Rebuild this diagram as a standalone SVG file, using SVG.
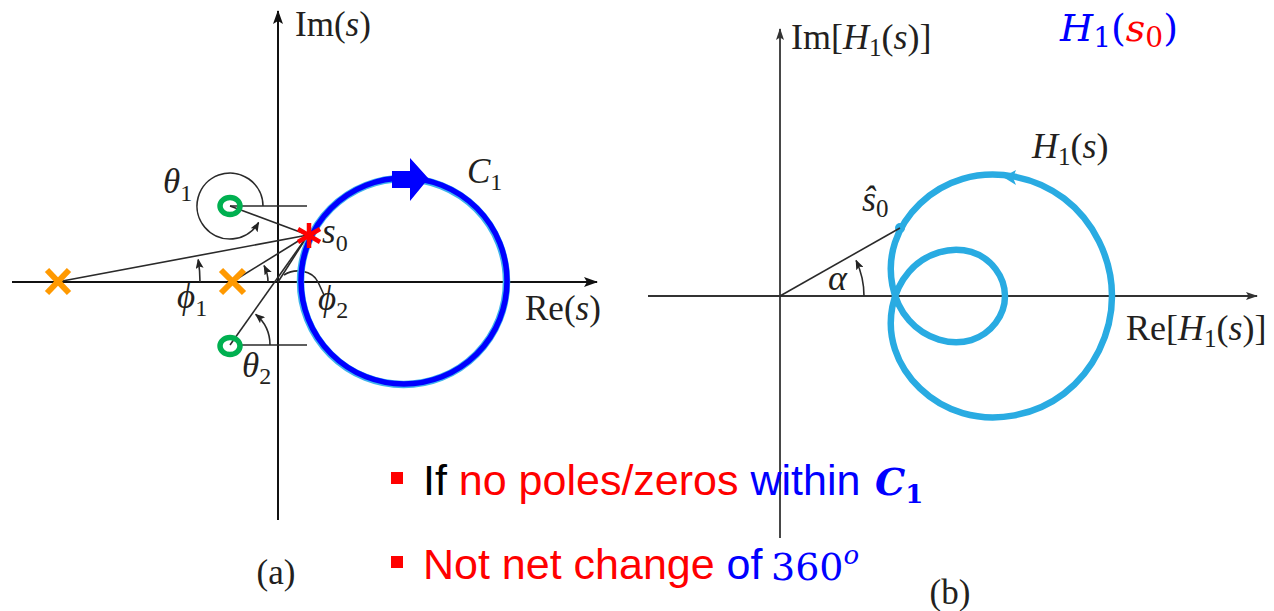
<svg xmlns="http://www.w3.org/2000/svg" width="1274" height="611" viewBox="0 0 1274 611">
<style>
.ax{stroke:#111;stroke-width:2;fill:none}
.axr{stroke:#333;stroke-width:1.8;fill:none}
.ln{stroke:#2a2a2a;stroke-width:1.6;fill:none}
.lbl{font-family:"Liberation Serif","Times New Roman",serif;font-size:35px;fill:#231f20}
.lblr{font-family:"Liberation Serif","Times New Roman",serif;font-size:36px;fill:#231f20}
.it{font-style:italic}
.pole{stroke:#ff9900;stroke-width:6;stroke-linecap:butt}
.zero{stroke:#00b050;stroke-width:5.5;fill:none}
.star{stroke:#ff0000;stroke-width:4.5}
.bt{font-family:"Liberation Sans",Arial,sans-serif;font-size:43px}
.math{font-family:"DejaVu Serif","Liberation Serif",serif}
</style>
<defs>
<marker id="axh" viewBox="0 0 14 10" refX="13" refY="5" markerWidth="14" markerHeight="10" markerUnits="userSpaceOnUse" orient="auto"><path d="M0,0 L14,5 L0,10 L3,5 z" fill="#111"/></marker>
<marker id="axs" viewBox="0 0 12 8" refX="11" refY="4" markerWidth="12" markerHeight="8" markerUnits="userSpaceOnUse" orient="auto"><path d="M0,0 L12,4 L0,8 L2.5,4 z" fill="#333"/></marker>
<marker id="ah" viewBox="0 0 10 8" refX="9" refY="4" markerWidth="10" markerHeight="8" markerUnits="userSpaceOnUse" orient="auto"><path d="M0,0 L10,4 L0,8 L2,4 z" fill="#222"/></marker>
</defs>

<!-- Left plot: axes -->
<g id="left-axes">
<line class="ax" x1="278" y1="520" x2="278" y2="11" marker-end="url(#axh)"/>
<line class="ax" x1="12" y1="282" x2="597" y2="282" marker-end="url(#axh)"/>
<text class="lbl" x="295" y="36">Im(<tspan class="it">s</tspan>)</text>
<text class="lbl" x="525" y="320">Re(<tspan class="it">s</tspan>)</text>
</g>

<g id="connectors">
<line class="ln" x1="230" y1="206" x2="308" y2="235"/>
<line class="ln" x1="230" y1="206" x2="307" y2="206"/>
<line class="ln" x1="57" y1="282" x2="308" y2="235"/>
<line class="ln" x1="232" y1="282" x2="308" y2="235"/>
<line class="ln" x1="278" y1="282" x2="308" y2="235"/>
<line class="ln" x1="230" y1="345" x2="308" y2="235"/>
<line class="ln" x1="242" y1="345" x2="307" y2="345"/>
<path class="ln" d="M263,206 A33,33 0 1 0 258.6,222.5" marker-end="url(#ah)"/>
<path class="ln" d="M200,282 A143,143 0 0 0 198.2,259.6" marker-end="url(#ah)"/>
<path class="ln" d="M268,282 A36,36 0 0 0 264.1,265.7" marker-end="url(#ah)"/>
<path class="ln" d="M270,345 A40,40 0 0 0 255.7,314.4" marker-end="url(#ah)"/>
<path class="ln" d="M284,275 C295,268 312,270 318,282 L324,295"/>
</g>

<g id="contour-C1">
<circle cx="403.5" cy="281.5" r="103" fill="none" stroke="#40b4ec" stroke-width="7.5"/>
<circle cx="404" cy="281" r="103" fill="none" stroke="#0000ff" stroke-width="5.5"/>
<polygon points="392,171 410,171 410,158 428.5,178.5 410,201 410,188 392,188" fill="#0000ff"/>
<text class="lbl" x="467" y="183"><tspan class="it">C</tspan><tspan font-size="24" dy="7">1</tspan></text>
</g>

<g id="zero1">
<ellipse class="zero" cx="230" cy="206" rx="10" ry="8.5"/>
<text class="lbl" x="163" y="193"><tspan class="it">θ</tspan><tspan font-size="24" dy="8">1</tspan></text>
</g>
<g id="zero2">
<ellipse class="zero" cx="230" cy="346" rx="10" ry="8.5"/>
<text class="lbl" x="242" y="377"><tspan class="it">θ</tspan><tspan font-size="24" dy="7">2</tspan></text>
</g>
<g id="pole1">
<line class="pole" x1="47" y1="270" x2="69" y2="293"/>
<line class="pole" x1="69" y1="270" x2="47" y2="293"/>
<text class="lbl" x="177" y="308"><tspan class="it">ϕ</tspan><tspan font-size="24" dy="8">1</tspan></text>
</g>
<g id="pole2">
<line class="pole" x1="221" y1="270" x2="244" y2="293"/>
<line class="pole" x1="244" y1="270" x2="221" y2="293"/>
</g>
<g id="pole-origin">
<text class="lbl" x="318" y="310"><tspan class="it">ϕ</tspan><tspan font-size="24" dy="8">2</tspan></text>
</g>
<g id="s0">
<line class="star" x1="309" y1="223" x2="309" y2="248"/>
<line class="star" x1="298" y1="229" x2="320" y2="242"/>
<line class="star" x1="298" y1="242" x2="320" y2="229"/>
<text class="lbl" x="322" y="243"><tspan class="it">s</tspan><tspan font-size="24" dy="8">0</tspan></text>
</g>
<text id="label-a" class="lbl" x="276" y="584" font-size="29" text-anchor="middle">(a)</text>

<!-- Right plot -->
<g id="right-axes">
<line class="axr" x1="780" y1="538" x2="780" y2="29" marker-end="url(#axs)"/>
<line class="axr" x1="648" y1="296" x2="1257" y2="296" marker-end="url(#axs)"/>
<text class="lblr" x="791" y="49">Im[<tspan class="it">H</tspan><tspan font-size="25" dy="7">1</tspan><tspan dy="-7">(</tspan><tspan class="it">s</tspan>)]</text>
<text class="lblr" x="1126" y="340">Re[<tspan class="it">H</tspan><tspan font-size="25" dy="7">1</tspan><tspan dy="-7">(</tspan><tspan class="it">s</tspan>)]</text>
</g>
<g id="H1-curve">
<path d="M1112,296 C1112,258.13 1093.34,220.80 1063.96,198.45 C1034.58,176.10 995.43,169.27 962.63,178.87 C929.83,188.47 904.34,213.96 895,242.5 C885.66,271.04 892.50,301.53 909.13,320.47 C925.76,339.41 951.26,346.23 971.30,340.05 C991.34,333.87 1005,315.20 1005,296 C1005,276.80 991.34,258.13 971.30,251.95 C951.26,245.77 925.76,252.59 909.13,271.53 C892.50,290.47 885.66,320.96 895,349.5 C904.34,378.04 929.83,403.53 962.63,413.13 C995.43,422.73 1034.58,415.90 1063.96,393.55 C1093.34,371.20 1112,333.87 1112,296 Z" fill="none" stroke="#29abe2" stroke-width="6.5"/>
<polygon points="1003,177 1016,170 1013,177.5 1016,185" fill="#29abe2"/>
<circle cx="900" cy="228" r="5" fill="#29abe2"/>
<text class="lblr" x="1032" y="158"><tspan class="it">H</tspan><tspan font-size="25" dy="7">1</tspan><tspan dy="-7">(</tspan><tspan class="it">s</tspan>)</text>
</g>
<g id="s0-hat">
<line class="ln" x1="780" y1="296" x2="900" y2="228"/>
<path class="ln" d="M864,296 A84,84 0 0 0 856.1,260.5" marker-end="url(#ah)"/>
<text class="lblr" x="862" y="211"><tspan class="it">ŝ</tspan><tspan font-size="25" dy="6">0</tspan></text>
<text class="lblr it" x="828" y="290">α</text>
</g>
<text id="label-b" class="lbl" x="950" y="604" font-size="29" text-anchor="middle">(b)</text>

<g id="title-H1s0">
<text class="math" x="1060" y="41" font-size="38" fill="#0000ff"><tspan font-style="italic">H</tspan><tspan font-size="28" dy="6">1</tspan><tspan dy="-6">(</tspan><tspan font-style="italic" fill="#ff0000">s</tspan><tspan font-size="28" dy="6" fill="#ff0000">0</tspan><tspan dy="-6">)</tspan></text>
</g>

<!-- Bullets -->
<g id="bullet1">
<rect x="391" y="472" width="12" height="12" fill="#ff0000"/>
<text class="bt" x="423" y="495"><tspan fill="#000">If </tspan><tspan fill="#ff0000">no poles/zeros </tspan><tspan fill="#0000ff">within</tspan></text>
<text class="math" x="875" y="495" font-size="38" font-weight="bold" font-style="italic" fill="#0000ff">C<tspan font-size="26" dy="8" font-style="normal">1</tspan></text>
</g>
<g id="bullet2">
<rect x="391" y="556" width="12" height="12" fill="#ff0000"/>
<text class="bt" x="423" y="579"><tspan fill="#ff0000">Not net change </tspan><tspan fill="#0000ff">of </tspan></text>
<text class="math" x="771" y="580" font-size="38" fill="#0000ff">360<tspan font-size="26" font-style="italic" dy="-16">o</tspan></text>
</g>
</svg>
